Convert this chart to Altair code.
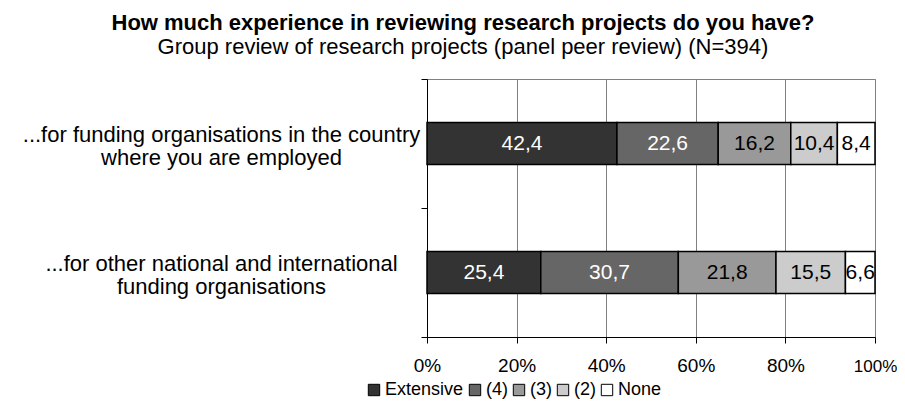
import altair as alt
import pandas as pd

categories = [
    "...for funding organisations in the country\nwhere you are employed",
    "...for other national and international\nfunding organisations",
]
levels = ["Extensive", "(4)", "(3)", "(2)", "None"]
values_row1 = [42.4, 22.6, 16.2, 10.4, 8.4]
values_row2 = [25.4, 30.7, 21.8, 15.5, 6.6]
colors = ["#333333", "#666666", "#999999", "#cccccc", "#ffffff"]
x_ticks = [0, 20, 40, 60, 80, 100]

rows = []
for cat, vals in zip(categories, [values_row1, values_row2]):
    for i, (lev, v) in enumerate(zip(levels, vals)):
        rows.append({"category": cat, "level": lev, "value": v, "order": i})
df = pd.DataFrame(rows)

FONT = "Liberation Sans"

base = alt.Chart(df).transform_stack(
    stack="value", groupby=["category"], sort=[alt.SortField("order")], as_=["x0", "x1"]
).transform_calculate(
    mid="(datum.x0 + datum.x1) / 2",
    lab="replace(format(datum.value, '.1f'), '.', ',')",
)

y_enc = alt.Y(
    "category:N",
    sort=categories,
    scale=alt.Scale(paddingInner=0, paddingOuter=0),
    axis=alt.Axis(
        title=None,
        tickBand="extent",
        domainColor="black",
        tickColor="black",
        tickSize=6,
        labelAlign="center",
        labelBaseline="middle",
        labelPadding=200,
        labelOffset=-9,
        labelExpr="split(datum.label, '\\n')",
        labelFontSize=22,
        labelLineHeight=23,
        labelColor="black",
        labelFont=FONT,
        labelLimit=0,
        grid=False,
    ),
)

x_scale = alt.Scale(domain=[0, 100], nice=False)

bars = base.mark_bar(size=42, stroke="black", strokeWidth=1.5).encode(
    x=alt.X(
        "x0:Q",
        scale=x_scale,
        axis=alt.Axis(
            title=None,
            values=x_ticks,
            labelExpr="datum.value + '%'",
            labelFlush=False,
            grid=True,
            gridColor="#808080",
            gridWidth=1,
            domainColor="black",
            tickColor="black",
            tickSize=6,
            labelFontSize={"condition": {"test": "datum.value == 100", "value": 17}, "value": 19},
            labelBaseline="alphabetic",
            labelPadding=28,
            labelColor="black",
            labelFont=FONT,
        ),
    ),
    x2="x1:Q",
    y=y_enc,
    color=alt.Color(
        "level:N",
        sort=levels,
        scale=alt.Scale(domain=levels, range=colors),
        legend=alt.Legend(
            title=None,
            orient="none",
            direction="horizontal",
            legendX=-62,
            legendY=302,
            symbolType="square",
            symbolSize=130,
            symbolStrokeColor="black",
            symbolStrokeWidth=1,
            symbolOpacity=1,
            labelFontSize=18,
            labelFont=FONT,
            labelColor="black",
            labelOffset=2,
            columnPadding=2,
            symbolOffset=0,
        ),
    ),
    order=alt.Order("order:Q"),
)

texts = base.mark_text(fontSize=21, font=FONT, baseline="middle").encode(
    x=alt.X("mid:Q", scale=x_scale),
    y=alt.Y("category:N", sort=categories),
    text="lab:N",
    color=alt.condition("datum.order < 2", alt.value("white"), alt.value("black")),
)

chart = alt.layer(bars, texts).properties(
    width=448,
    height=258,
    title=alt.TitleParams(
        text="How much experience in reviewing research projects do you have?",
        subtitle="Group review of research projects (panel peer review) (N=394)",
        anchor="middle",
        frame="group",
        dx=-188,
        offset=9,
        font=FONT,
        fontSize=22,
        fontWeight="bold",
        color="black",
        subtitleFont=FONT,
        subtitleFontSize=22,
        subtitleColor="black",
        subtitlePadding=2,
    ),
    autosize=alt.AutoSizeParams(type="none"),
    padding={"left": 419, "top": 71, "right": 22, "bottom": 63},
).configure_view(stroke="#808080", strokeWidth=1)

chart.save("out.html", embed_options={"renderer": "svg", "actions": False})
